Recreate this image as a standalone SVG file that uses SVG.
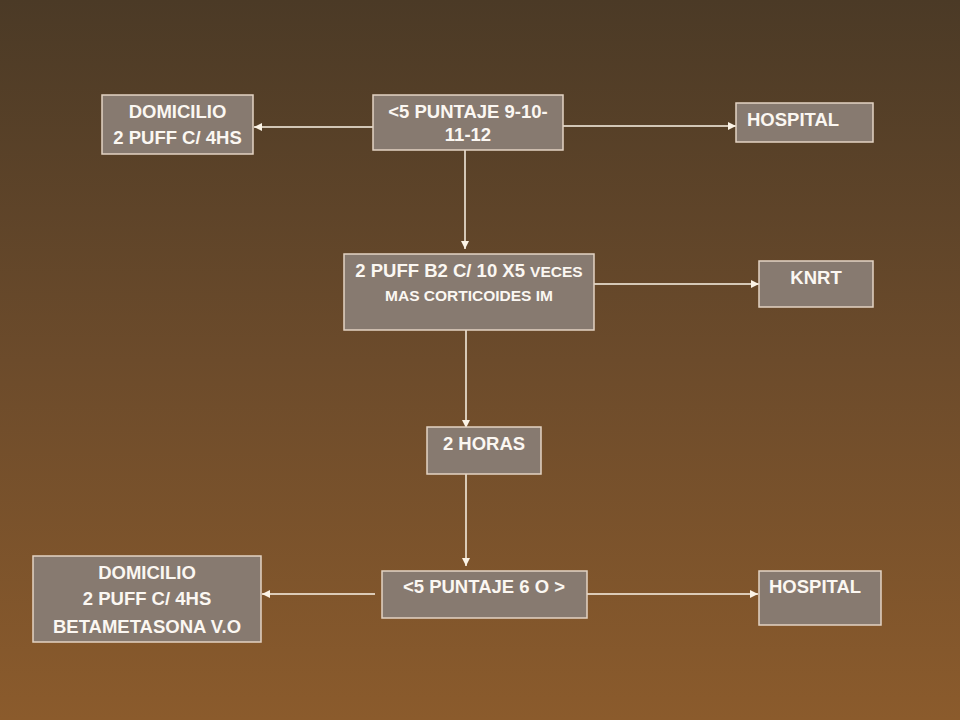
<svg xmlns="http://www.w3.org/2000/svg" width="960" height="720" viewBox="0 0 960 720">
  <defs>
    <linearGradient id="bg" x1="0" y1="0" x2="0" y2="1">
      <stop offset="0" stop-color="#4b3a26"/>
      <stop offset="0.5" stop-color="#6c4b2b"/>
      <stop offset="1" stop-color="#8b5b2c"/>
    </linearGradient>
    <marker id="arr" markerUnits="userSpaceOnUse" markerWidth="10" markerHeight="10" refX="9" refY="5" orient="auto">
      <path d="M1,1 L9,5 L1,9 Z" fill="#fbf3e6"/>
    </marker>
    <style>
      .box { fill: #877a70; stroke: #e3d3c3; stroke-width: 1.5; }
      .t { font-family: "Liberation Sans", Arial, sans-serif; font-weight: bold; fill: #fbf7f2; font-size: 18.5px; }
      .c { text-anchor: middle; }
      .s { font-size: 15.5px; }
      .ln { stroke: #fbf3e6; stroke-width: 1.5; fill: none; marker-end: url(#arr); }
    </style>
  </defs>
  <rect x="0" y="0" width="960" height="720" fill="url(#bg)"/>

  <g id="connectors">
    <line class="ln" x1="373" y1="127" x2="254" y2="127"/>
    <line class="ln" x1="563" y1="126" x2="736" y2="126"/>
    <line class="ln" x1="465" y1="150" x2="465" y2="249"/>
    <line class="ln" x1="594" y1="284" x2="759" y2="284"/>
    <line class="ln" x1="466" y1="330" x2="466" y2="428"/>
    <line class="ln" x1="466" y1="474" x2="466" y2="566"/>
    <line class="ln" x1="375" y1="594" x2="262" y2="594"/>
    <line class="ln" x1="587" y1="594" x2="758" y2="594"/>
  </g>

  <g id="domicilio1">
    <rect class="box" x="102" y="95" width="151" height="59"/>
    <text class="t c" x="177.5" y="118">DOMICILIO</text>
    <text class="t c" x="177.5" y="144">2 PUFF C/ 4HS</text>
  </g>

  <g id="puntaje1">
    <rect class="box" x="373" y="95" width="190" height="55"/>
    <text class="t c" x="468" y="118">&lt;5 PUNTAJE 9-10-</text>
    <text class="t c" x="468" y="141">11-12</text>
  </g>

  <g id="hospital1">
    <rect class="box" x="736" y="103" width="137" height="39"/>
    <text class="t" x="747" y="126">HOSPITAL</text>
  </g>

  <g id="puff2">
    <rect class="box" x="344" y="254" width="250" height="76"/>
    <text class="t c" x="469" y="277">2 PUFF B2 C/ 10 X5 <tspan class="s">VECES</tspan></text>
    <text class="t c s" x="469" y="301">MAS CORTICOIDES IM</text>
  </g>

  <g id="knrt">
    <rect class="box" x="759" y="261" width="114" height="46"/>
    <text class="t c" x="816" y="284">KNRT</text>
  </g>

  <g id="horas">
    <rect class="box" x="427" y="427" width="114" height="47"/>
    <text class="t c" x="484" y="450">2 HORAS</text>
  </g>

  <g id="puntaje2">
    <rect class="box" x="382" y="571" width="205" height="47"/>
    <text class="t c" x="484" y="593">&lt;5 PUNTAJE 6 O &gt;</text>
  </g>

  <g id="hospital2">
    <rect class="box" x="759" y="571" width="122" height="54"/>
    <text class="t" x="769" y="593">HOSPITAL</text>
  </g>

  <g id="domicilio2">
    <rect class="box" x="33" y="556" width="228" height="86"/>
    <text class="t c" x="147" y="579">DOMICILIO</text>
    <text class="t c" x="147" y="605">2 PUFF C/ 4HS</text>
    <text class="t c" x="147" y="633">BETAMETASONA V.O</text>
  </g>
</svg>
